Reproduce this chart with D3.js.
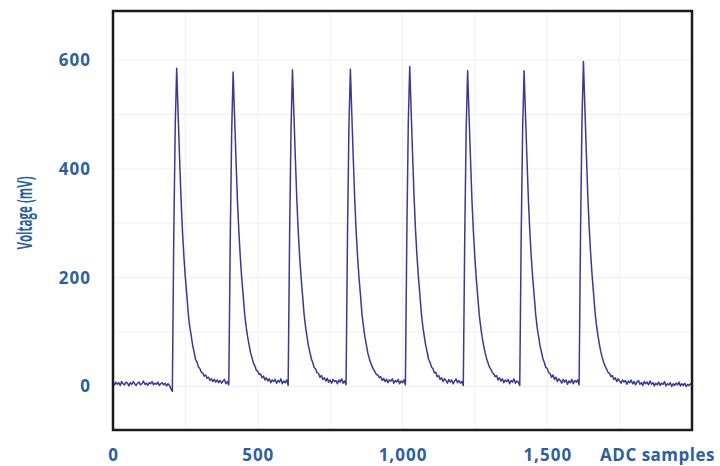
<!DOCTYPE html>
<html>
<head>
<meta charset="utf-8">
<script src="https://cdn.jsdelivr.net/npm/d3@7"></script>
<style>
	html, body { margin: 0; padding: 0; background: #fff; }
	#chart text { font-family: "Open Sans", "DejaVu Sans", sans-serif; font-weight: bold; fill: #2f5f9e; }
</style>
</head>
<body>
<div id="chart"></div>
<script>
// ADC trace, one reading every 5 samples starting at sample 0 (mV)
const sampleStep = 5;
const traceMv = [
	6, 3, 8, 4, 7, 2, 9, 5, 3, 8, 6, 1, 7, 4, 9, 5, 2, 6, 8, 3,
	5, 10, 4, 6, 2, 7, 5, 9, 3, 6, 4, 8, 2, 5, 7, 3, 6, 1, 5, 2,
	-4, -9, 280, 480, 585, 500, 420, 345, 285, 238, 200, 168, 134, 110, 94, 76, 64, 50, 45, 36,
	33, 26, 25, 19, 21, 15, 17, 11, 14, 9, 13, 8, 12, 7, 11, 6, 10, 13, 5, 9,
	3, 270, 470, 578, 495, 415, 340, 282, 235, 197, 165, 132, 109, 91, 77, 62, 53, 43, 38, 30,
	28, 22, 23, 16, 19, 12, 16, 10, 14, 7, 12, 9, 13, 6, 11, 8, 14, 5, 10, 7,
	12, 2, 275, 475, 582, 498, 418, 343, 284, 236, 199, 166, 133, 110, 92, 75, 63, 51, 44, 35,
	32, 25, 24, 17, 20, 13, 16, 10, 15, 8, 12, 6, 13, 9, 11, 5, 12, 8, 14, 6,
	10, 3, 278, 478, 583, 499, 419, 344, 284, 237, 199, 167, 133, 111, 92, 77, 62, 52, 43, 37,
	31, 27, 22, 21, 16, 18, 11, 15, 9, 13, 7, 12, 10, 14, 6, 11, 8, 13, 5, 10,
	7, 12, 3, 282, 485, 588, 505, 423, 348, 287, 240, 201, 169, 135, 111, 93, 76, 64, 50, 45,
	36, 33, 25, 26, 18, 20, 13, 16, 9, 14, 11, 6, 13, 8, 12, 5, 10, 14, 7, 11,
	6, 9, 2, 274, 474, 580, 496, 416, 341, 283, 236, 198, 165, 132, 110, 91, 76, 63, 52, 44,
	36, 32, 26, 23, 18, 20, 12, 16, 10, 14, 7, 12, 9, 13, 5, 11, 8, 14, 6, 10,
	8, 2, 276, 474, 580, 497, 417, 342, 283, 236, 198, 166, 133, 109, 92, 75, 63, 51, 44, 35,
	33, 25, 24, 17, 21, 13, 17, 9, 14, 11, 6, 13, 8, 12, 4, 10, 7, 13, 5, 11,
	8, 12, 3, 285, 490, 597, 512, 430, 352, 291, 243, 204, 171, 137, 113, 94, 78, 64, 53, 44,
	37, 32, 26, 24, 18, 20, 13, 16, 9, 14, 10, 6, 12, 8, 11, 4, 10, 7, 12, 5,
	9, 3, 8, 11, 4, 7, 2, 9, 5, 8, 3, 10, 4, 7, 1, 6, 3, 8, 2, 6,
	4, 9, 1, 5, 3, 7, 0, 5, 2, 6, 3, 8, 1, 5, 2, 6, 0, 4, 2, 5,
	3
];

const xTicks = [0, 500, 1000, 1500];
const yTicks = [0, 200, 400, 600];
const xGrid = [250, 500, 750, 1000, 1250, 1500, 1750];
const yGrid = [0, 100, 200, 300, 400, 500, 600];

const width = 720,
	height = 466,
	plot = { left: 113, right: 692, top: 11, bottom: 430 };

const x = d3.scaleLinear().domain([0, 2000]).range([plot.left, plot.right]);
const y = d3.scaleLinear().domain([-80, 690]).range([plot.bottom, plot.top]);

const svg = d3.select("#chart")
	.append("svg")
	.attr("width", width)
	.attr("height", height);

// faint grid
svg.append("g")
	.selectAll("line")
	.data(xGrid)
	.join("line")
	.attr("x1", d => x(d)).attr("x2", d => x(d))
	.attr("y1", plot.top).attr("y2", plot.bottom)
	.attr("stroke", "#edf0f6")
	.attr("stroke-width", 1);

svg.append("g")
	.selectAll("line")
	.data(yGrid)
	.join("line")
	.attr("x1", plot.left).attr("x2", plot.right)
	.attr("y1", d => y(d)).attr("y2", d => y(d))
	.attr("stroke", "#edf0f6")
	.attr("stroke-width", 1);

// trace
const line = d3.line()
	.x((d, i) => x(i * sampleStep))
	.y(d => y(d));

svg.append("path")
	.datum(traceMv)
	.attr("fill", "none")
	.attr("stroke", "#3a3a94")
	.attr("stroke-width", 1.5)
	.attr("stroke-linejoin", "round")
	.attr("d", line);

// frame
svg.append("rect")
	.attr("x", plot.left)
	.attr("y", plot.top)
	.attr("width", plot.right - plot.left)
	.attr("height", plot.bottom - plot.top)
	.attr("fill", "none")
	.attr("stroke", "#1b1b1b")
	.attr("stroke-width", 2.5);

// axes (labels only, no domain or tick marks)
const xAxis = svg.append("g")
	.attr("transform", `translate(0,${plot.bottom})`)
	.call(d3.axisBottom(x).tickValues(xTicks).tickFormat(d3.format(",")).tickSize(0).tickPadding(19));
const yAxis = svg.append("g")
	.attr("transform", `translate(${plot.left},0)`)
	.call(d3.axisLeft(y).tickValues(yTicks).tickSize(0).tickPadding(22));

[xAxis, yAxis].forEach(a => {
	a.select(".domain").remove();
	a.selectAll("text")
		.style("font-size", "17px")
		.style("letter-spacing", "1px");
});

svg.append("text")
	.attr("x", 715)
	.attr("y", 461)
	.attr("text-anchor", "end")
	.style("font-size", "17px")
	.style("letter-spacing", "0.5px")
	.text("ADC samples");

svg.append("text")
	.attr("transform", "translate(32,213) rotate(-90) scale(0.55,1)")
	.attr("text-anchor", "middle")
	.style("font-size", "21px")
	.text("Voltage (mV)");
</script>
</body>
</html>
